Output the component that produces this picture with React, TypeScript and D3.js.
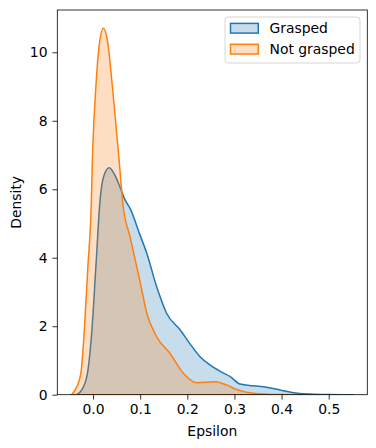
import React, { useEffect, useRef } from 'react';
import * as d3 from 'd3';

// KDE curves (epsilon, density)
const graspedEps = [-0.035, -0.024, -0.012, -0.003, 0.006, 0.0149, 0.022, 0.034, 0.045, 0.057, 0.068, 0.0785, 0.0997, 0.114, 0.135, 0.156, 0.185, 0.205, 0.227, 0.248, 0.27, 0.291, 0.312, 0.34, 0.368, 0.397, 0.425, 0.46, 0.5, 0.552];
const graspedDensity = [0.0, 0.14, 0.62, 1.79, 3.74, 5.69, 6.35, 6.63, 6.45, 6.07, 5.69, 5.44, 4.66, 4.13, 3.15, 2.38, 1.89, 1.5, 1.11, 0.87, 0.68, 0.53, 0.31, 0.26, 0.22, 0.14, 0.06, 0.02, 0.005, 0.0];

const notGraspedEps = [-0.046, -0.038, -0.026, -0.019, -0.011, -0.004, -0.001, 0.006, 0.013, 0.022, 0.031, 0.041, 0.054, 0.064, 0.0785, 0.0997, 0.114, 0.135, 0.163, 0.192, 0.22, 0.24, 0.259, 0.284, 0.305, 0.32, 0.34, 0.37, 0.4, 0.432];
const notGraspedDensity = [0.0, 0.14, 0.62, 1.79, 3.74, 5.49, 7.05, 9.0, 10.2, 10.7, 10.3, 9.0, 7.05, 5.49, 4.61, 3.3, 2.38, 1.69, 1.21, 0.62, 0.35, 0.36, 0.38, 0.28, 0.15, 0.09, 0.04, 0.015, 0.005, 0.0];

const seriesNames = ['Grasped', 'Not grasped'];
const seriesColors = ['#1f77b4', '#ff7f0e'];
const xTicks = [0, 0.1, 0.2, 0.3, 0.4, 0.5];
const yTicks = [0, 2, 4, 6, 8, 10];

const W = 376;
const H = 448;
const left = 57.3, right = 367.3, top = 10, bottom = 394.7;
const font = 'DejaVu Sans, sans-serif';

export default function App() {
  const ref = useRef<SVGSVGElement>(null);

  useEffect(() => {
    const svg = d3.select(ref.current);
    svg.selectAll('*').remove();

    const allEps = graspedEps.concat(notGraspedEps);
    const lo = d3.min(allEps) as number;
    const hi = d3.max(allEps) as number;
    const pad = (hi - lo) * 0.05;
    const x = d3.scaleLinear().domain([lo - pad, hi + pad]).range([left, right]);
    const yMax = (d3.max(notGraspedDensity.concat(graspedDensity)) as number) * 1.05;
    const y = d3.scaleLinear().domain([0, yMax]).range([bottom, top]);

    svg.append('defs').append('clipPath').attr('id', 'plot')
      .append('rect').attr('x', left).attr('y', top)
      .attr('width', right - left).attr('height', bottom - top);

    const series = [
      { eps: graspedEps, dens: graspedDensity },
      { eps: notGraspedEps, dens: notGraspedDensity },
    ];

    const area = d3.area<number>()
      .x((d, i, arr) => 0)
      .curve(d3.curveMonotoneX);

    series.forEach((s, k) => {
      const pts = s.eps.map((e, i) => [e, s.dens[i]] as [number, number]);
      const a = d3.area<[number, number]>()
        .x(d => x(d[0]))
        .y0(y(0))
        .y1(d => y(d[1]))
        .curve(d3.curveMonotoneX);
      svg.append('path')
        .attr('clip-path', 'url(#plot)')
        .attr('d', a(pts))
        .attr('fill', seriesColors[k])
        .attr('fill-opacity', 0.25)
        .attr('stroke', seriesColors[k])
        .attr('stroke-width', 1.5)
        .attr('stroke-linejoin', 'round');
    });

    // axes
    const xAxis = svg.append('g').attr('transform', `translate(0,${bottom})`)
      .call(d3.axisBottom(x).tickValues(xTicks).tickFormat(d3.format('.1f')).tickSizeOuter(0).tickSize(4.9).tickPadding(4.9));
    const yAxis = svg.append('g').attr('transform', `translate(${left},0)`)
      .call(d3.axisLeft(y).tickValues(yTicks).tickFormat(d3.format('d')).tickSizeOuter(0).tickSize(4.9).tickPadding(4.9));
    [xAxis, yAxis].forEach(g => {
      g.select('.domain').remove();
      g.selectAll('line').attr('stroke', '#000').attr('stroke-width', 0.8);
      g.selectAll('text').attr('font-family', font).attr('font-size', 13.9).attr('fill', '#000');
    });

    // spines
    svg.append('rect')
      .attr('x', left).attr('y', top)
      .attr('width', right - left).attr('height', bottom - top)
      .attr('fill', 'none').attr('stroke', '#000').attr('stroke-width', 0.8);

    svg.append('text')
      .attr('x', (left + right) / 2).attr('y', 436)
      .attr('text-anchor', 'middle')
      .attr('font-family', font).attr('font-size', 13.9)
      .text('Epsilon');
    svg.append('text')
      .attr('transform', `translate(21,${(top + bottom) / 2}) rotate(-90)`)
      .attr('text-anchor', 'middle')
      .attr('font-family', font).attr('font-size', 13.9)
      .text('Density');

    // legend
    const lg = svg.append('g');
    lg.append('rect')
      .attr('x', 225).attr('y', 17).attr('width', 135).attr('height', 46)
      .attr('rx', 3).attr('fill', '#fff').attr('fill-opacity', 0.8)
      .attr('stroke', '#cccccc').attr('stroke-width', 0.8);
    seriesNames.forEach((name, i) => {
      const cy = 28.3 + i * 20.9;
      lg.append('rect')
        .attr('x', 230.5).attr('y', cy - 4.9).attr('width', 27.8).attr('height', 9.7)
        .attr('fill', seriesColors[i]).attr('fill-opacity', 0.25)
        .attr('stroke', seriesColors[i]).attr('stroke-width', 1.5);
      lg.append('text')
        .attr('x', 269.5).attr('y', cy + 5)
        .attr('font-family', font).attr('font-size', 13.9)
        .text(name);
    });
  }, []);

  return (
    <svg ref={ref} width={W} height={H}
      style={{ position: 'absolute', left: 0, top: 0, background: '#fff' }} />
  );
}
